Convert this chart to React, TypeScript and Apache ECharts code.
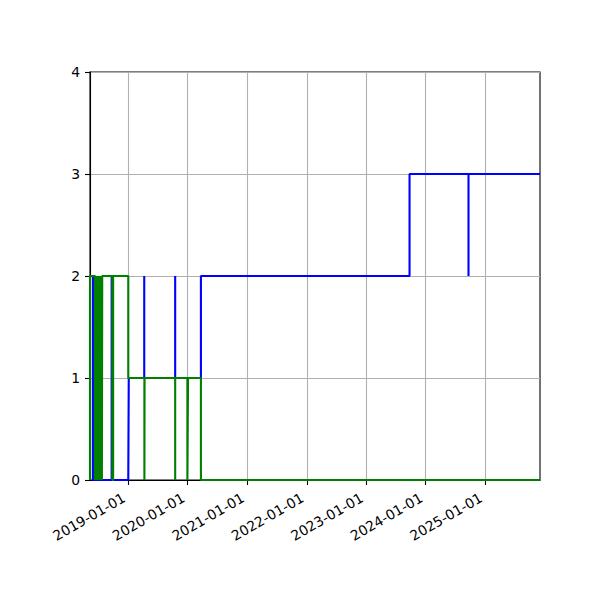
import React, { useEffect, useRef } from "react";
import * as echarts from "echarts";

// ---- data (dates as YYYY-MM-DD) ----
const xStart = "2018-05-11";
const xEnd = "2025-12-03";

const yearTicks = [
  "2019-01-01",
  "2020-01-01",
  "2021-01-01",
  "2022-01-01",
  "2023-01-01",
  "2024-01-01",
  "2025-01-01",
];

const yTicks = [0, 1, 2, 3, 4];

const blueDates = [
  "2018-05-11", "2018-05-29", "2018-05-29",
  "2018-09-21", "2018-09-21", "2018-09-21",
  "2019-01-01", "2019-01-04",
  "2019-04-09", "2019-04-09", "2019-04-09",
  "2019-10-16", "2019-10-16", "2019-10-16",
  "2020-03-22", "2020-03-22",
  "2023-09-24", "2023-09-24",
  "2024-09-20", "2024-09-20", "2024-09-20",
  "2025-12-03",
];
const blueValues = [
  2, 2, 0,
  0, 2, 0,
  0, 1,
  1, 2, 1,
  1, 2, 1,
  1, 2,
  2, 3,
  3, 2, 3,
  3,
];

const greenDates = [
  "2018-05-11", "2018-05-11",
  "2018-06-11", "2018-06-11", "2018-06-14", "2018-06-14",
  "2018-06-17", "2018-06-17", "2018-06-20", "2018-06-20",
  "2018-06-23", "2018-06-23", "2018-06-26", "2018-06-26",
  "2018-06-29", "2018-06-29", "2018-07-02", "2018-07-02",
  "2018-07-05", "2018-07-05", "2018-07-08", "2018-07-08",
  "2018-07-11", "2018-07-11", "2018-07-14", "2018-07-14",
  "2018-07-17", "2018-07-17", "2018-07-20", "2018-07-20",
  "2018-07-23", "2018-07-23", "2018-07-25", "2018-07-25",
  "2018-09-25", "2018-09-25", "2018-09-30", "2018-09-30",
  "2019-01-01", "2019-01-01",
  "2019-04-10", "2019-04-10", "2019-04-11", "2019-04-11",
  "2019-10-16", "2019-10-16", "2019-10-16",
  "2019-12-30", "2019-12-30", "2020-01-03", "2020-01-03",
  "2020-03-22", "2020-03-22",
  "2025-12-03",
];
const greenValues = [
  0, 2,
  2, 0, 0, 2,
  2, 0, 0, 2,
  2, 0, 0, 2,
  2, 0, 0, 2,
  2, 0, 0, 2,
  2, 0, 0, 2,
  2, 0, 0, 2,
  2, 0, 0, 2,
  2, 0, 0, 2,
  2, 1,
  1, 0, 0, 1,
  1, 0, 1,
  1, 0, 0, 1,
  1, 0,
  0,
];

// ---- helpers ----
const ts = (s: string) => {
  const [y, m, d] = s.split("-").map(Number);
  return Date.UTC(y, m - 1, d);
};
const fmt = (v: number) => {
  const d = new Date(v);
  const p = (n: number) => (n < 10 ? "0" + n : "" + n);
  return `${d.getUTCFullYear()}-${p(d.getUTCMonth() + 1)}-${p(d.getUTCDate())}`;
};
const pairs = (dates: string[], vals: number[]) =>
  dates.map((d, i) => [ts(d), vals[i]]);

const FONT = "DejaVu Sans";

export default function App() {
  const ref = useRef<HTMLDivElement>(null);
  useEffect(() => {
    if (!ref.current) return;
    const chart = echarts.init(ref.current, undefined, { renderer: "svg" });
    const tickVals = yearTicks.map(ts);
    chart.setOption({
      animation: false,
      backgroundColor: "#ffffff",
      grid: {
        left: 90,
        top: 72,
        width: 450,
        height: 408,
        show: true,
        borderColor: "#000000",
        borderWidth: 1.1,
        backgroundColor: "transparent",
      },
      xAxis: {
        type: "value",
        min: ts(xStart),
        max: ts(xEnd),
        axisLine: { show: true, lineStyle: { color: "#000", width: 1.1 } },
        axisTick: {
          show: true,
          length: 5,
          inside: false,
          customValues: tickVals,
          lineStyle: { color: "#000", width: 1.1 },
        },
        axisLabel: {
          show: true,
          customValues: tickVals,
          rotate: 30,
          margin: 14,
          padding: [0, 5, 0, 0],
          color: "#000",
          fontFamily: FONT,
          fontSize: 13.9,
          formatter: (v: number) => fmt(v),
        },
        splitLine: {
          show: true,
          lineStyle: { color: "#b0b0b0", width: 1.1 },
        },
      },
      yAxis: {
        type: "value",
        min: yTicks[0],
        max: yTicks[yTicks.length - 1],
        interval: 1,
        axisLine: { show: true, lineStyle: { color: "#000", width: 1.1 } },
        axisTick: {
          show: true,
          length: 5,
          inside: false,
          lineStyle: { color: "#000", width: 1.1 },
        },
        axisLabel: {
          color: "#000",
          fontFamily: FONT,
          fontSize: 13.9,
          margin: 10,
        },
        splitLine: {
          show: true,
          lineStyle: { color: "#b0b0b0", width: 1.1 },
        },
      },
      series: [
        {
          type: "line",
          data: pairs(blueDates, blueValues),
          showSymbol: false,
          symbol: "none",
          lineStyle: { color: "#0000ff", width: 2.1 },
          itemStyle: { color: "#0000ff" },
          clip: true,
          z: 2,
        },
        {
          type: "line",
          data: pairs(greenDates, greenValues),
          showSymbol: false,
          symbol: "none",
          lineStyle: { color: "#008000", width: 2.1 },
          itemStyle: { color: "#008000" },
          clip: true,
          z: 3,
        },
      ],
    });
    return () => chart.dispose();
  }, []);
  return (
    <div
      ref={ref}
      style={{
        position: "fixed",
        left: 0,
        top: 0,
        width: 600,
        height: 600,
        background: "#fff",
      }}
    />
  );
}
